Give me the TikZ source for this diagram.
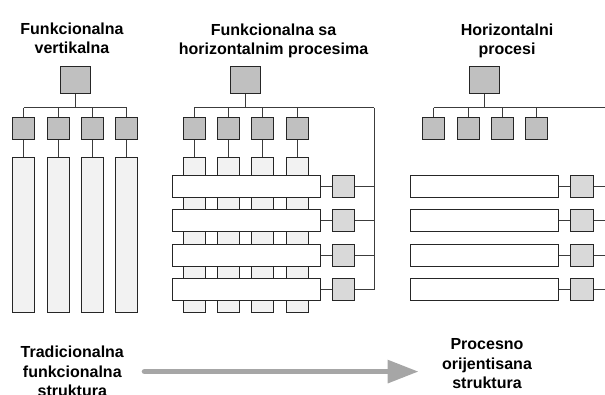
\documentclass[tikz,border=0pt]{standalone}
\usepackage{fontspec}
\setmainfont{Liberation Sans}
\usepackage{tikz}
\usetikzlibrary{positioning,arrows.meta}
\definecolor{boxgray}{RGB}{192,192,192}
\definecolor{colgray}{RGB}{242,242,242}
\definecolor{procgray}{RGB}{217,217,217}
\definecolor{arrowgray}{RGB}{166,166,166}
\definecolor{linegray}{RGB}{60,60,60}

\begin{document}
\begin{tikzpicture}[x=1pt, y=-1pt]
                \tikzstyle{head}=[draw=black!85, line width=1pt, fill=boxgray, minimum width=29.5pt, minimum height=27pt, inner sep=0]
                \tikzstyle{unit}=[head, minimum width=22pt, minimum height=22.4pt, node distance=34.3pt]
                \tikzstyle{column}=[draw=black!85, line width=1pt, fill=colgray, minimum width=22pt, minimum height=155pt, inner sep=0]
                \tikzstyle{bar}=[draw=black!85, line width=1pt, fill=white, minimum width=148pt, minimum height=22pt, inner sep=0]
                \tikzstyle{proc}=[bar, fill=procgray, minimum width=22.4pt]
                \tikzstyle{title}=[font=\bfseries\fontsize{16}{19.5}\selectfont, align=center, inner sep=0, anchor=north]
                \tikzstyle{link}=[draw=linegray, line width=1pt]
                \tikzstyle{bigarrow}=[draw=arrowgray, line width=5.7pt, line cap=round, -{Triangle[length=31pt, width=22pt]}]

                \useasboundingbox (0,0) rectangle (605,394);

                \node[title] (h1) at (72,22.7) {Funkcionalna\\vertikalna};
                \node[title] (h2) at (273.5,23.3) {Funkcionalna sa\\horizontalnim procesima};
                \node[title] (h3) at (507,23.3) {Horizontalni\\procesi};

                \node[head] (t1) at (75.3,80) {};
                \node[unit] (a1) at (23.8,128.5) {};
                \node[unit, right of=a1] (a2) {};
                \node[unit, right of=a2] (a3) {};
                \node[unit, right of=a3] (a4) {};
                \node[column, below=17pt of a1] (c1) {};
                \node[column, below=17pt of a2] (c2) {};
                \node[column, below=17pt of a3] (c3) {};
                \node[column, below=17pt of a4] (c4) {};

                \node[head] (t2) at (245.5,80) {};
                \node[unit] (b1) at (194.2,128.5) {};
                \node[unit, right of=b1] (b2) {};
                \node[unit, right of=b2] (b3) {};
                \node[unit, right of=b3] (b4) {};
                \node[column, below=17pt of b1] (d1) {};
                \node[column, below=17pt of b2] (d2) {};
                \node[column, below=17pt of b3] (d3) {};
                \node[column, below=17pt of b4] (d4) {};

                \node[head] (t3) at (484.3,80) {};
                \node[unit] (e1) at (433.7,128.7) {};
                \node[unit, right of=e1] (e2) {};
                \node[unit, right of=e2] (e3) {};
                \node[unit, right of=e3] (e4) {};

                \draw[link] (t1.south) -- ++(0,13.7) coordinate (j1);
                \draw[link] (t2.south) -- ++(0,13.7) coordinate (j2);
                \draw[link] (t3.south) -- ++(0,13.7) coordinate (j3);
                \coordinate (v2) at (374,0);
                \coordinate (v3) at (605,0);

                \draw[link] (j1 -| a1) -- (j1 -| a4);
                \draw[link] (j2 -| b1) -- (j2 -| v2);
                \draw[link] (j3 -| e1) -- (j3 -| v3);
                \foreach \n in {1,2,3,4} {
                    \draw[link] (j1 -| a\n) -- (a\n.north);
                    \draw[link] (a\n) -- (c\n);
                    \draw[link] (j2 -| b\n) -- (b\n.north);
                    \draw[link] (b\n) -- (d\n);
                    \draw[link] (j3 -| e\n) -- (e\n.north);
                }
                \node[head] at (t1) {};
                \node[head] at (t2) {};
                \node[head] at (t3) {};
                \foreach \n in {1,2,3,4} {
                    \node[unit] at (a\n) {};
                    \node[unit] at (b\n) {};
                    \node[unit] at (e\n) {};
                    \node[column] at (c\n) {};
                    \node[column] at (d\n) {};
                }

                \node[bar] (p1) at (246,186.2) {};
                \node[bar, below=11.5pt of p1] (p2) {};
                \node[bar, below=11.5pt of p2] (p3) {};
                \node[bar, below=11.5pt of p3] (p4) {};
                \node[proc, right=11.5pt of p1] (q1) {};
                \node[proc, right=11.5pt of p2] (q2) {};
                \node[proc, right=11.5pt of p3] (q3) {};
                \node[proc, right=11.5pt of p4] (q4) {};

                \node[bar] (r1) at (484.5,186.2) {};
                \node[bar, below=11.5pt of r1] (r2) {};
                \node[bar, below=11.5pt of r2] (r3) {};
                \node[bar, below=11.5pt of r3] (r4) {};
                \node[proc, right=11.3pt of r1] (s1) {};
                \node[proc, right=11.3pt of r2] (s2) {};
                \node[proc, right=11.3pt of r3] (s3) {};
                \node[proc, right=11.3pt of r4] (s4) {};

                \draw[link] (j2 -| v2) -- (q4.east -| v2);
                \foreach \n in {1,2,3,4} {
                    \draw[link] (p\n) -- (q\n);
                    \draw[link] (q\n.east) -- (q\n.east -| v2);
                    \draw[link] (r\n) -- (s\n);
                    \draw[link] (s\n.east) -- (s\n.east -| v3);
                }

                \node[title] (trad) at (72.3,346) {Tradicionalna\\funkcionalna\\struktura};
                \node[title] (proc) at (487,338.3) {Procesno\\orijentisana\\struktura};
                \draw[bigarrow] ([xshift=20.5pt]trad.east) -- ([xshift=-23.2pt]trad.east -| proc.west);
\end{tikzpicture}
\end{document}
